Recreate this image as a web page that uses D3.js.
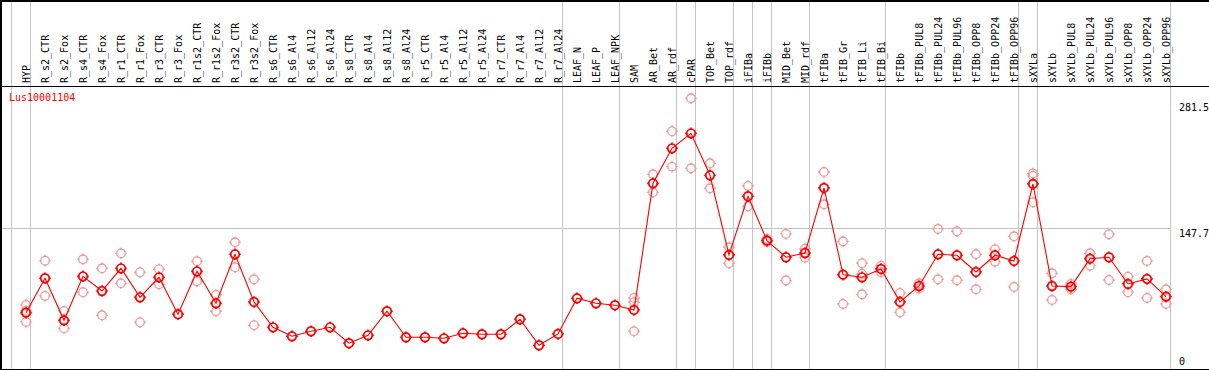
<!DOCTYPE html>
<html>
<head>
<meta charset="utf-8">
<script src="https://cdn.jsdelivr.net/npm/d3@7"></script>
<style>
  body { margin: 0; background: #fff; }
  svg { display: block; font-family: 'DejaVu Sans Mono', monospace; font-size: 10px; }
</style>
</head>
<body>
<div id="svg"></div>
<script>
// sample names (x axis)
let samples = ['HYP', 'R_s2_CTR', 'R_s2_Fox', 'R_s4_CTR', 'R_s4_Fox', 'R_r1_CTR', 'R_r1_Fox', 'R_r3_CTR', 'R_r3_Fox',
  'R_r1s2_CTR', 'R_r1s2_Fox', 'R_r3s2_CTR', 'R_r3s2_Fox', 'R_s6_CTR', 'R_s6_Al4', 'R_s6_Al12', 'R_s6_Al24',
  'R_s8_CTR', 'R_s8_Al4', 'R_s8_Al12', 'R_s8_Al24', 'R_r5_CTR', 'R_r5_Al4', 'R_r5_Al12', 'R_r5_Al24',
  'R_r7_CTR', 'R_r7_Al4', 'R_r7_Al12', 'R_r7_Al24', 'LEAF_N', 'LEAF_P', 'LEAF_NPK', 'SAM', 'AR_Bet', 'AR_rdf',
  'cPAR', 'TOP_Bet', 'TOP_rdf', 'iFIBa', 'iFIBb', 'MID_Bet', 'MID_rdf', 'tFIBa', 'tFIB_Gr', 'tFIB_Li', 'tFIB_Bi',
  'tFIBb', 'tFIBb_PUL8', 'tFIBb_PUL24', 'tFIBb_PUL96', 'tFIBb_OPP8', 'tFIBb_OPP24', 'tFIBb_OPP96',
  'sXYLa', 'sXYLb', 'sXYLb_PUL8', 'sXYLb_PUL24', 'sXYLb_PUL96', 'sXYLb_OPP8', 'sXYLb_OPP24', 'sXYLb_OPP96'];

// mean expression per sample
let means = [59.8, 95.4, 51.9, 97.4, 82.2, 105.7, 75.7, 96.4, 58.2,
  102.6, 69.5, 120.2, 70.9, 44.7, 35.4, 40.6, 44.7,
  28.2, 36.4, 61.3, 34.4, 34.4, 33.3, 38.5, 37.5,
  37.5, 53.0, 26.1, 37.8, 74.7, 69.5, 67.5, 62.6, 193.6, 229.8,
  245.3, 201.9, 119.5, 180.2, 134.3, 117.1, 121.5, 188.8, 99.1, 96.4, 105.0,
  70.9, 87.4, 120.2, 119.2, 101.9, 119.2, 113.3,
  192.9, 87.4, 86.7, 115.6, 117.1, 89.5, 94.7, 76.4];

// replicate values per sample
let replicates = [[67.8, 61.6, 50.2], [113.6, 77.1], [61.6, 43.7], [115.0, 80.9], [105.7, 57.1], [121.2, 90.2],
  [101.6, 49.9], [104.7, 89.2], [], [113.0, 92.3], [78.1, 61.3], [132.6, 106.8], [94.3, 46.8],
  [], [], [], [], [], [], [], [], [], [], [], [], [], [], [], [],
  [], [], [], [75.0, 70.6, 40.6], [202.9, 184.3], [247.4, 210.8],
  [281.5, 209.1], [214.3, 188.4], [127.4, 110.9], [190.8, 169.8], [136.0, 133.0], [141.2, 93.3], [126.0, 116.7],
  [205.3, 171.9], [133.6, 68.8], [110.9, 99.8, 78.8], [108.4, 101.6],
  [80.2, 60.2], [90.2, 84.6], [146.4, 94.3], [144.0, 93.3], [120.2, 84.0], [125.4, 112.5], [138.8, 86.4],
  [203.9, 201.2, 174.0], [100.5, 72.9], [89.5, 84.0], [121.2, 108.4], [140.9, 93.6], [97.0, 80.9], [113.3, 75.0], [84.0, 68.8]];

// samples that start a new group (grey separator before them)
let groupStarts = ['HYP', 'R_s2_CTR', 'LEAF_N', 'SAM', 'cPAR', 'TOP_Bet', 'iFIBa', 'iFIBb', 'MID_Bet', 'tFIBa', 'tFIBb', 'sXYLa', 'sXYLb'];

// right axis labels
let yTicks = [281.5, 147.7, 0];
let gridValue = 147.7;
let geneName = 'Lus10001104';

let w = 1209;
let h = 370;

let svg = d3.select('#svg').
append('svg').
attr('width', w).
attr('height', h);

let xScale = d3.scalePoint().
domain(samples).
range([26, 1166]);
let step = xScale.step();

let yScale = d3.scaleLinear().
domain([0, 281.5]).
range([370.5, 98.3]);

let grid = svg.append('g').attr('stroke', '#c4c4c4').attr('shape-rendering', 'crispEdges');

// horizontal grid line
grid.append('line').
attr('x1', 1).
attr('x2', xScale(samples[samples.length - 1]) + 4).
attr('y1', Math.round(yScale(gridValue)) + 0.5).
attr('y2', Math.round(yScale(gridValue)) + 0.5);

// group separators
let sepX = groupStarts.map(d => xScale(d) - step + 4);
sepX.push(xScale(samples[samples.length - 1]) + 4);
grid.selectAll('line.sep').
data(sepX).
enter().
append('line').
attr('class', 'sep').
attr('x1', d => d + 0.5).
attr('x2', d => d + 0.5).
attr('y1', 0).
attr('y2', h);

// frame
let frame = svg.append('g').attr('stroke', '#000').attr('shape-rendering', 'crispEdges');
frame.append('line').attr('x1', 0).attr('x2', w).attr('y1', 0.5).attr('y2', 0.5).attr('stroke-width', 2);
frame.append('line').attr('x1', 1).attr('x2', 1).attr('y1', 0).attr('y2', h).attr('stroke-width', 2);
frame.append('line').attr('x1', 0).attr('x2', w).attr('y1', 369.5).attr('y2', 369.5).attr('stroke-width', 2);
frame.append('line').attr('x1', 0).attr('x2', w).attr('y1', 86.5).attr('y2', 86.5);

// header labels
svg.append('g').
selectAll('text').
data(samples).
enter().
append('text').
attr('transform', d => 'translate(' + (xScale(d) + 4) + ',83) rotate(-90)').
attr('fill', '#000').
text(d => d);

// gene name
svg.append('text').
attr('x', 9).
attr('y', 101).
attr('fill', '#ff0000').
text(geneName);

// right axis labels
svg.append('g').
selectAll('text').
data(yTicks).
enter().
append('text').
attr('x', 1179).
attr('y', d => Math.max(111, Math.min(365, yScale(d) + 9))).
attr('fill', '#000').
text(d => d3.format('.1f')(d).replace(/\.0$/, ''));

// marker: circle with small ticks at the four points
function marker(g, r) {
  g.append('circle').attr('r', r).attr('fill', 'none');
  g.append('path').attr('d', `M0,${-r - 1.5}V${-r + 0.5}M0,${r - 0.5}V${r + 1.5}M${-r - 1.5},0H${-r + 0.5}M${r - 0.5},0H${r + 1.5}`);
}

// replicate points
let repPts = [];
samples.forEach((s, i) => replicates[i].forEach(v => repPts.push({ s: s, v: v })));
svg.append('g').
attr('stroke', '#ee9a9a').
attr('stroke-width', 1.3).
selectAll('g').
data(repPts).
enter().
append('g').
attr('transform', d => 'translate(' + xScale(d.s) + ',' + yScale(d.v) + ')').
each(function () { marker(d3.select(this), 4.3); });

// mean line
let line = d3.line().
x((d, i) => xScale(samples[i])).
y(d => yScale(d));
svg.append('path').
datum(means).
attr('d', line).
attr('fill', 'none').
attr('stroke', '#ff0000').
attr('stroke-width', 1.1);

// mean points
svg.append('g').
attr('stroke', '#ff0000').
attr('stroke-width', 1.7).
selectAll('g').
data(means).
enter().
append('g').
attr('transform', (d, i) => 'translate(' + xScale(samples[i]) + ',' + yScale(d) + ')').
each(function () { marker(d3.select(this), 4.3); });
</script>
</body>
</html>
